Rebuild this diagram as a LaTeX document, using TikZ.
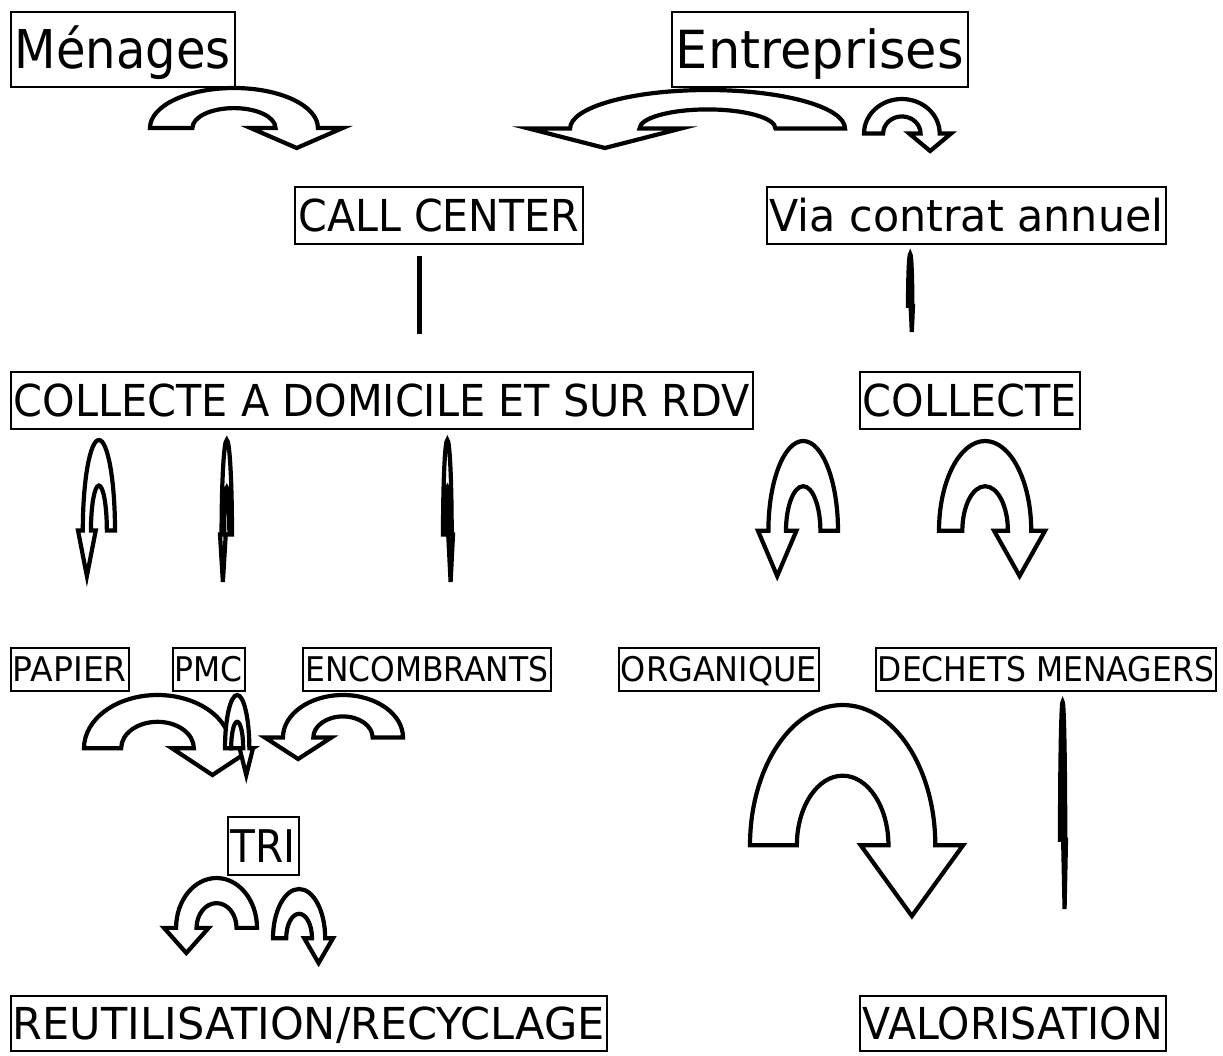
\documentclass[tikz,border=0pt]{standalone}
\usepackage{fontspec}
\setmainfont{DejaVu Sans}
\usepackage{graphicx}
\newcommand{\fittext}[3]{\fontsize{#1}{#1}\selectfont\resizebox{#2}{\height}{#3}}
\tikzset{
  lbl/.style={draw, line width=1.8pt, inner sep=0pt, anchor=north west, text depth=0pt},
  uarrow/.style={draw=black, fill=white, line width=4.2pt, line join=miter},
  bar/.style={line width=5pt}
}
\newcommand{\uturnshape}{(0,0.665) .. controls (0,0.2977) and (0.1947,0) .. (0.435,0) .. controls (0.6753,0) and (0.87,0.2977) .. (0.87,0.665) -- (1,0.665) -- (0.76,1) -- (0.52,0.665) -- (0.65,0.665) .. controls (0.65,0.4827) and (0.5537,0.335) .. (0.435,0.335) .. controls (0.3163,0.335) and (0.22,0.4827) .. (0.22,0.665) -- cycle}
% head on the right
\newcommand{\uturnR}[4]{\begin{scope}[shift={(#1+2,#2+2)}, xscale={#3-#1-4}, yscale={#4-#2-4}]\draw[uarrow] \uturnshape;\end{scope}}
% head on the left
\newcommand{\uturnL}[4]{\begin{scope}[shift={(#3-2,#2+2)}, xscale={-(#3-#1-4)}, yscale={#4-#2-4}]\draw[uarrow] \uturnshape;\end{scope}}
\begin{document}
\begin{tikzpicture}[x=1pt,y=-1pt]
\fill[white] (0,0) rectangle (1223,1055);
\useasboundingbox (0,0) rectangle (1223,1055);

% boxes
\node[lbl, minimum width=224, minimum height=75, text height=39pt] (menages) at (10,11) {\fittext{53.5}{216pt}{Ménages}};
\node[lbl, minimum width=296, minimum height=75, text height=38pt] (entreprises) at (671,11) {\fittext{52.5}{288pt}{Entreprises}};
\node[lbl, minimum width=288, minimum height=57, text height=32pt] (callcenter) at (294,186) {\fittext{44}{281pt}{CALL CENTER}};
\node[lbl, minimum width=399, minimum height=57, text height=32pt] (via) at (766,186) {\fittext{44}{394pt}{Via contrat annuel}};
\node[lbl, minimum width=742, minimum height=57, text height=32pt] (collecteA) at (10,371) {\fittext{44}{736pt}{COLLECTE A DOMICILE ET SUR RDV}};
\node[lbl, minimum width=220, minimum height=57, text height=32pt] (collecteB) at (859,371) {\fittext{44}{214pt}{COLLECTE}};
\node[lbl, minimum width=118, minimum height=43, text height=25pt] (papier) at (10,647) {\fittext{34}{114pt}{PAPIER}};
\node[lbl, minimum width=72, minimum height=43, text height=25pt] (pmc) at (172,647) {\fittext{34}{68pt}{PMC}};
\node[lbl, minimum width=248, minimum height=43, text height=25pt] (encombrants) at (302,647) {\fittext{34}{243pt}{ENCOMBRANTS}};
\node[lbl, minimum width=200, minimum height=43, text height=25pt] (organique) at (618,647) {\fittext{34}{196pt}{ORGANIQUE}};
\node[lbl, minimum width=340, minimum height=43, text height=25pt] (dechets) at (875,647) {\fittext{34}{336pt}{DECHETS MENAGERS}};
\node[lbl, minimum width=71, minimum height=58, text height=33pt] (tri) at (227,816) {\fittext{45}{65pt}{TRI}};
\node[lbl, minimum width=596, minimum height=55, text height=32pt] (reutil) at (10,995) {\fittext{44}{592pt}{REUTILISATION/RECYCLAGE}};
\node[lbl, minimum width=306, minimum height=55, text height=32pt] (valor) at (859,995) {\fittext{44}{300pt}{VALORISATION}};

% u-turn arrows
\uturnR{148}{86}{345}{150}
\uturnL{527}{88}{847}{150}
\uturnR{862}{97}{953}{153}

\coordinate (cc1) at (419,256);
\coordinate (cc2) at (419,334);
\draw[bar] (cc1) -- (cc2);
\uturnR{906}{252}{915}{334}

\uturnL{76}{438}{117}{578}
\uturnL{218}{438}{234}{584}
\uturnR{441}{438}{455}{584}
\uturnL{756}{439}{840}{578}
\uturnR{937}{439}{1047}{578}

\uturnR{82}{693}{255}{777}
\uturnR{223}{693}{255}{777}
\uturnL{263}{693}{405}{761}
\uturnR{748}{703}{965}{918}
\uturnR{1058}{700}{1068}{911}

\uturnL{162}{876}{259}{955}
\uturnR{271}{887}{335}{965}
\end{tikzpicture}
\end{document}
